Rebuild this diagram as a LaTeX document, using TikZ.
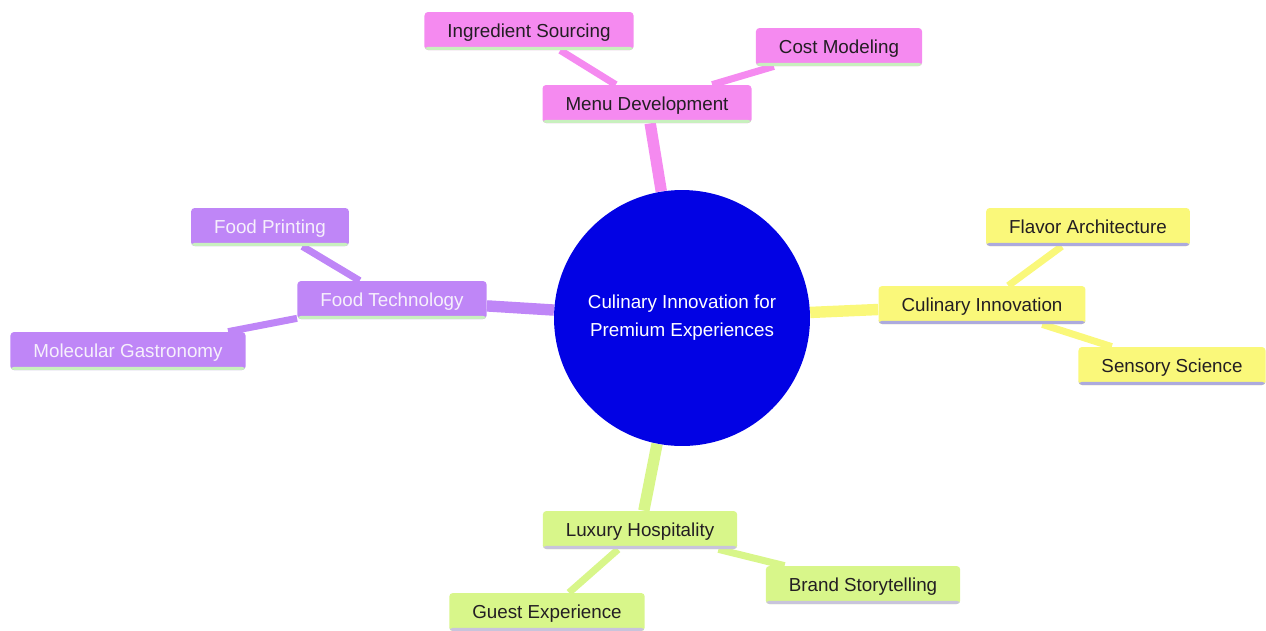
\documentclass[tikz,border=0pt]{standalone}
\usepackage{fontspec}
\setmainfont{Liberation Sans}
\usetikzlibrary{backgrounds}
\definecolor{rootBlue}{RGB}{2,2,228}
\definecolor{menuPink}{RGB}{245,138,240}
\definecolor{techPurple}{RGB}{191,134,247}
\definecolor{flavorYellow}{RGB}{250,248,122}
\definecolor{hostLime}{RGB}{216,246,138}
\definecolor{greenRule}{RGB}{200,240,190}
\definecolor{violetRule}{RGB}{172,170,222}
\definecolor{greyRule}{RGB}{200,196,220}
\definecolor{inkDark}{RGB}{35,30,35}
\definecolor{inkLight}{RGB}{246,240,252}
\tikzstyle{root} = [circle, fill=rootBlue, text=white, minimum size=5.12cm, inner sep=0pt, align=center, font=\fontsize{10.7}{16}\selectfont]
\tikzstyle{topic} = [rounded corners=2pt, minimum height=0.76cm, inner xsep=0.46cm, inner ysep=0pt, text height=10pt, text depth=2.3pt, font=\fontsize{10.7}{13}\selectfont]
\tikzstyle{menuTopic} = [topic, fill=menuPink, text=inkDark, path picture={\fill[greenRule] (path picture bounding box.south west) rectangle ([yshift=1.8pt]path picture bounding box.south east);}]
\tikzstyle{techTopic} = [topic, fill=techPurple, text=inkLight, path picture={\fill[greenRule] (path picture bounding box.south west) rectangle ([yshift=1.8pt]path picture bounding box.south east);}]
\tikzstyle{flavorTopic} = [topic, fill=flavorYellow, text=inkDark, path picture={\fill[violetRule] (path picture bounding box.south west) rectangle ([yshift=1.8pt]path picture bounding box.south east);}]
\tikzstyle{hostTopic} = [topic, fill=hostLime, text=inkDark, path picture={\fill[greyRule] (path picture bounding box.south west) rectangle ([yshift=1.8pt]path picture bounding box.south east);}]
\tikzstyle{trunk} = [line width=6.5pt]
\tikzstyle{twig} = [line width=4pt]

\begin{document}
\begin{tikzpicture}[x=0.02cm, y=-0.02cm]
	\useasboundingbox (0,0) rectangle (1266,630);

	\node[root] (root) at (682,318) {Culinary Innovation for\\Premium Experiences};

	\node[menuTopic] (menuDev) at (647,104) {Menu Development};
	\node[menuTopic] (sourcing) at (529,31) {Ingredient Sourcing};
	\node[menuTopic] (costModel) at (839,47) {Cost Modeling};

	\node[techTopic] (foodTech) at (392,300) {Food Technology};
	\node[techTopic] (foodPrint) at (270,227) {Food Printing};
	\node[techTopic] (molecular) at (128,351) {Molecular Gastronomy};

	\node[flavorTopic] (culinary) at (982,305) {Culinary Innovation};
	\node[flavorTopic] (flavorArch) at (1088,227) {Flavor Architecture};
	\node[flavorTopic] (sensory) at (1172,366) {Sensory Science};

	\node[hostTopic] (luxury) at (640,530) {Luxury Hospitality};
	\node[hostTopic] (storytelling) at (863,585) {Brand Storytelling};
	\node[hostTopic] (guestExp) at (547,612) {Guest Experience};

	\begin{scope}[on background layer]
	\path[trunk, draw=menuPink] (root) -- (menuDev);
	\path[twig, draw=menuPink] (menuDev) -- (sourcing);
	\path[twig, draw=menuPink] (menuDev) -- (costModel);
	\path[trunk, draw=techPurple] (root) -- (foodTech);
	\path[twig, draw=techPurple] (foodTech) -- (foodPrint);
	\path[twig, draw=techPurple] (foodTech) -- (molecular);
	\path[trunk, draw=flavorYellow] (root) -- (culinary);
	\path[twig, draw=flavorYellow] (culinary) -- (flavorArch);
	\path[twig, draw=flavorYellow] (culinary) -- (sensory);
	\path[trunk, draw=hostLime] (root) -- (luxury);
	\path[twig, draw=hostLime] (luxury) -- (storytelling);
	\path[twig, draw=hostLime] (luxury) -- (guestExp);
	\end{scope}
\end{tikzpicture}
\end{document}
